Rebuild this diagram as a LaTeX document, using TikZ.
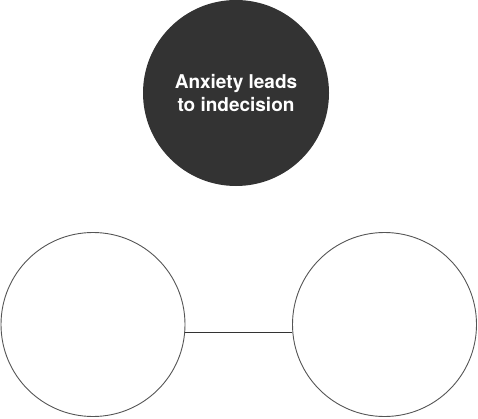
\documentclass[tikz,border=0pt]{standalone}
\usepackage{fontspec}
\setmainfont{TeX Gyre Heros}
\definecolor{dark}{HTML}{333333}
\definecolor{rim}{HTML}{555555}
\begin{document}
\begin{tikzpicture}[x=1pt,y=1pt,
  bubble/.style={circle,draw=rim,line width=0.9pt,minimum size=184pt,inner sep=0pt},
  darkbubble/.style={circle,fill=dark,minimum size=186pt,inner sep=0pt,text=white,
    font=\bfseries\fontsize{19}{23}\selectfont,align=center},
  link/.style={draw=dark,line width=0.9pt}]
\useasboundingbox (0,0) rectangle (478,418);
\node[darkbubble] (top) at (236,325) {Anxiety leads\\to indecision};
\node[bubble] (left) at (93,93.5) {};
\node[bubble] (right) at (384.5,93.5) {};
\draw[link] (left.-5.3) -- (right.185.3);
\end{tikzpicture}
\end{document}
